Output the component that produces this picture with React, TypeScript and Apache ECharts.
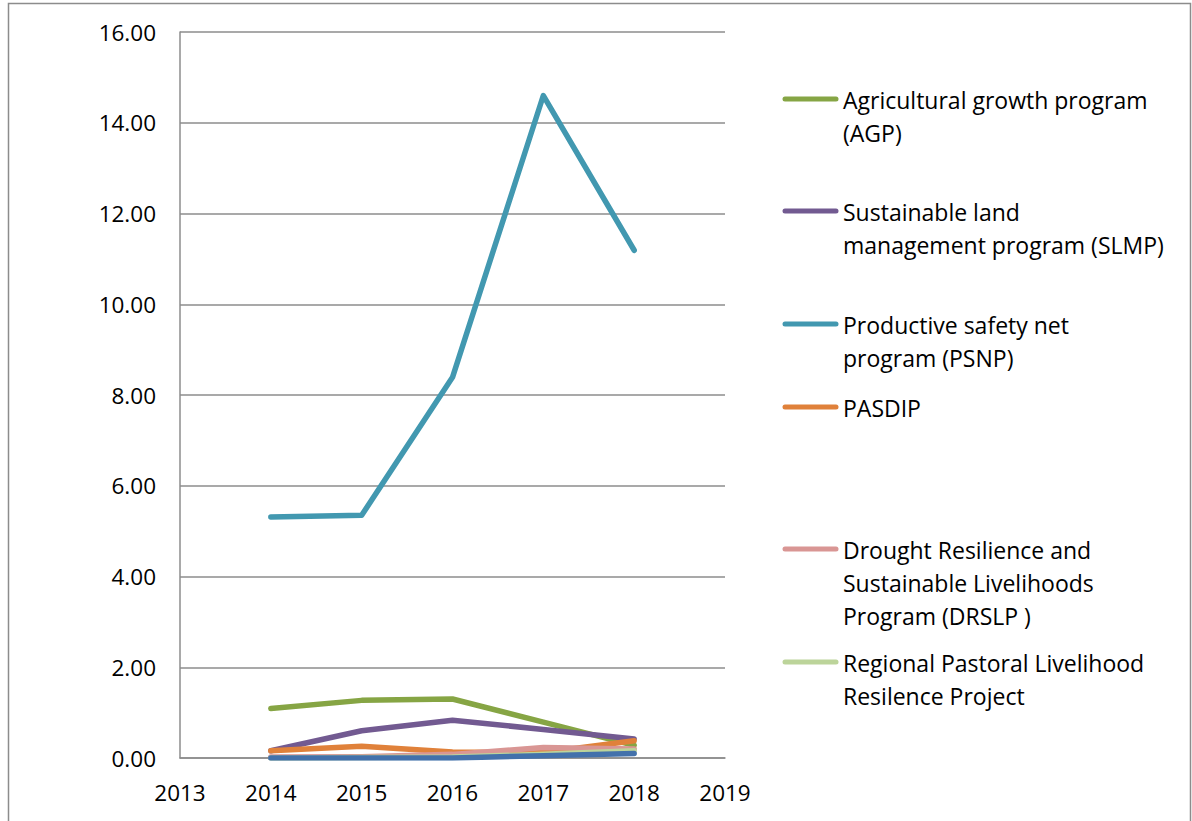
import React, { useEffect, useRef } from "react";
import * as echarts from "echarts";

const years = [2014, 2015, 2016, 2017, 2018];
const seriesNames = [
  "Agricultural growth program\n(AGP)",
  "Sustainable land\nmanagement program (SLMP)",
  "Productive safety net\nprogram (PSNP)",
  "PASDIP",
  "Drought Resilience and\nSustainable Livelihoods\nProgram (DRSLP )",
  "Regional Pastoral Livelihood\nResilence Project",
  "Other",
];
const agp = [1.09, 1.27, 1.3, 0.79, 0.28];
const slmp = [0.16, 0.6, 0.83, 0.63, 0.42];
const psnp = [5.31, 5.35, 8.39, 14.6, 11.19];
const pasdip = [0.16, 0.26, 0.13, 0.12, 0.38];
const drslp = [0.02, 0.03, 0.08, 0.23, 0.2];
const regional = [0.0, 0.01, 0.02, 0.08, 0.16];
const other = [0.0, 0.0, 0.0, 0.05, 0.1];
const colors = ["#86A544", "#725A91", "#4298B0", "#E0813A", "#D99694", "#BCD49A", "#4371AB"];
const yTicks = [0, 2, 4, 6, 8, 10, 12, 14, 16];
const legendY = [99, 211, 324, 407, 549, 662];

export default function App() {
  const ref = useRef<HTMLDivElement>(null);
  useEffect(() => {
    if (!ref.current) return;
    const chart = echarts.init(ref.current, null, { renderer: "svg" });
    const all = [agp, slmp, psnp, pasdip, drslp, regional, other];
    const font = "'Open Sans', sans-serif";
    const legendGraphics: any[] = [];
    legendY.forEach((y, i) => {
      legendGraphics.push({
        type: "line",
        shape: { x1: 785, y1: y, x2: 836, y2: y },
        style: { stroke: colors[i], lineWidth: 5, lineCap: "round" },
      });
      legendGraphics.push({
        type: "text",
        x: 843,
        y: y - 16,
        style: {
          text: seriesNames[i],
          fontFamily: font,
          fontSize: 23,
          lineHeight: 33,
          fill: "#000",
          verticalAlign: "top",
          align: "left",
        },
      });
    });
    chart.setOption({
      animation: false,
      backgroundColor: "#fff",
      grid: { left: 180, top: 32, width: 545, bottom: 63 },
      xAxis: {
        type: "value",
        min: 2013,
        max: 2019,
        interval: 1,
        axisLine: { show: true, lineStyle: { color: "#8c8c8c", width: 1.5 } },
        axisTick: { show: false },
        splitLine: { show: false },
        axisLabel: {
          color: "#000",
          fontFamily: font,
          fontSize: 22.5,
          margin: 23,
          formatter: (v: number) => String(v),
        },
      },
      yAxis: {
        type: "value",
        min: yTicks[0],
        max: yTicks[yTicks.length - 1],
        interval: 2,
        axisLine: { show: true, lineStyle: { color: "#8c8c8c", width: 1.5 } },
        axisTick: { show: false },
        splitLine: { show: true, lineStyle: { color: "#8c8c8c", width: 1.5 } },
        axisLabel: {
          color: "#000",
          fontFamily: font,
          fontSize: 22.5,
          margin: 24,
          formatter: (v: number) => v.toFixed(2),
        },
      },
      series: all.map((vals, i) => ({
        type: "line",
        name: seriesNames[i],
        data: years.map((yr, j) => [yr, vals[j]]),
        showSymbol: false,
        symbol: "none",
        z: 2 + i,
        lineStyle: { color: colors[i], width: 5.5, cap: "round", join: "round" },
        itemStyle: { color: colors[i] },
      })),
      graphic: [
        {
          type: "rect",
          shape: { x: 8.5, y: 3.5, width: 1182, height: 830 },
          style: { fill: "none", stroke: "#8c8c8c", lineWidth: 1.5 },
          silent: true,
        },
        ...legendGraphics,
      ],
    });
    return () => chart.dispose();
  }, []);
  return (
    <div
      ref={ref}
      style={{ position: "absolute", left: 0, top: 0, width: 1192, height: 821 }}
    />
  );
}
